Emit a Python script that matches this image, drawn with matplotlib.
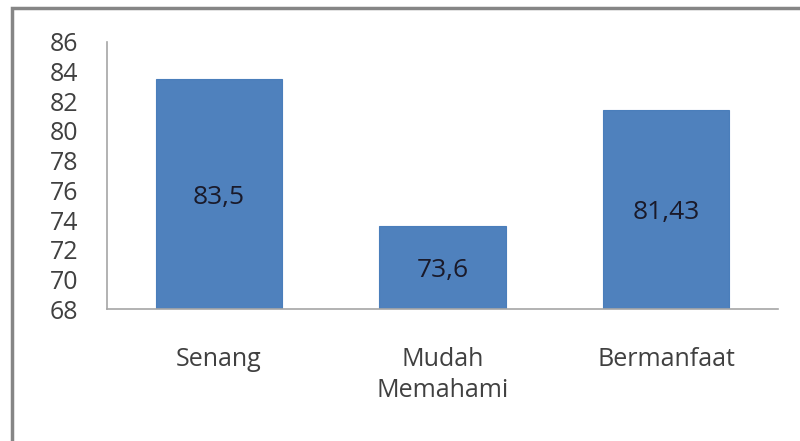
import matplotlib.pyplot as plt
from matplotlib.patches import Rectangle

categories = ['Senang', 'Mudah\nMemahami', 'Bermanfaat']
values = [83.5, 73.6, 81.43]
value_labels = ['83,5', '73,6', '81,43']
yticks = [68, 70, 72, 74, 76, 78, 80, 82, 84, 86]

plt.rcParams['font.family'] = ['Open Sans', 'DejaVu Sans']

fig = plt.figure(figsize=(8, 4.41), dpi=100)
ax = fig.add_axes([0.134, 0.2993, 0.8385, 0.6055])

x = range(len(categories))
bars = ax.bar(x, values, width=0.565, color='#4F81BD', edgecolor='#4A7EBB', linewidth=0.8)

for b, lab in zip(bars, value_labels):
    ax.annotate(lab, (b.get_x() + b.get_width() / 2, (68 + b.get_height()) / 2),
                xytext=(0, -2.5), textcoords='offset points',
                ha='center', va='center', fontsize=19, color='#1a1a2a')

ax.set_ylim(68, 86)
ax.set_xlim(-0.5, 2.5)
ax.set_yticks(yticks)
ax.set_yticklabels([str(t) for t in yticks])
ax.set_xticks(list(x))
ax.set_xticklabels(categories, linespacing=1.3)
ax.tick_params(axis='y', length=0, pad=21, labelsize=18, labelcolor='#404040')
ax.tick_params(axis='x', length=0, pad=27.5, labelsize=18, labelcolor='#404040')

for s in ['top', 'right']:
    ax.spines[s].set_visible(False)
for s in ['left', 'bottom']:
    ax.spines[s].set_color('#a6a6a6')
    ax.spines[s].set_linewidth(1.2)

# outer chart border
fig.patches.append(Rectangle((12 / 800, -0.05), 1.0, 1 - 8 / 441 + 0.05,
                             transform=fig.transFigure, fill=False,
                             edgecolor='#868686', linewidth=2.5))

fig.savefig('out.png', dpi=100)
